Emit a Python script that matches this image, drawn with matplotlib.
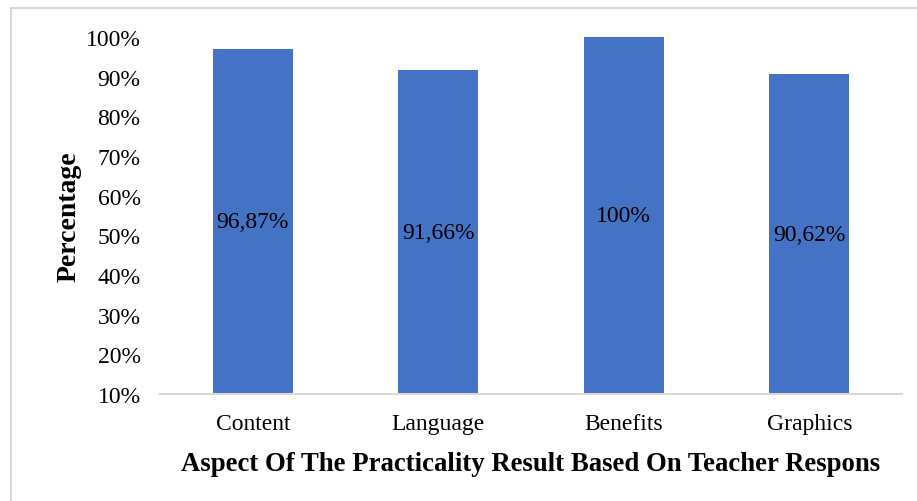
import matplotlib.pyplot as plt
from matplotlib.patches import Rectangle
from matplotlib.ticker import PercentFormatter

# Data
categories = ['Content', 'Language', 'Benefits', 'Graphics']
values = [96.87, 91.66, 100, 90.62]
labels = ['96,87%', '91,66%', '100%', '90,62%']
yticks = [10, 20, 30, 40, 50, 60, 70, 80, 90, 100]

plt.rcParams['font.family'] = ['Liberation Serif', 'DejaVu Serif']

fig = plt.figure(figsize=(9.17, 5.02), dpi=100)
ax = fig.add_axes([0.1745, 0.2131, 0.8092, 0.7112])

base = 10
x = range(len(categories))
heights = [v - base for v in values]
bars = ax.bar(x, heights, bottom=base, width=0.43, color='#4472C4')

# value labels centred in each bar
for xi, v, lab in zip(x, values, labels):
    ax.text(xi, (v + base) / 2, lab, ha='center', va='center', fontsize=17, color='black')

ax.set_xlim(-0.5, len(categories) - 0.5)
ax.set_ylim(10, 100)
ax.set_yticks(yticks)
ax.yaxis.set_major_formatter(PercentFormatter(decimals=0))
ax.set_xticks(list(x))
ax.set_xticklabels(categories)
ax.tick_params(axis='both', length=0, labelsize=17, colors='black')
ax.tick_params(axis='y', pad=14)
ax.tick_params(axis='x', pad=14)

for side in ['top', 'right', 'left']:
    ax.spines[side].set_visible(False)
ax.spines['bottom'].set_color('#D9D9D9')
ax.spines['bottom'].set_linewidth(1.5)

ax.set_ylabel('Percentage', fontsize=20, fontweight='bold', labelpad=3)
ax.set_xlabel('Aspect Of The Practicality Result Based On Teacher Respons',
              fontsize=19.3, fontweight='bold', labelpad=12)

# outer chart border (runs off the right and bottom edges)
fig.patches.append(Rectangle((11 / 917, -0.1), 1.2, (502 - 9) / 502 + 0.1,
                             transform=fig.transFigure, fill=False,
                             edgecolor='#D9D9D9', linewidth=1.5))

fig.savefig('out.png', dpi=100)
